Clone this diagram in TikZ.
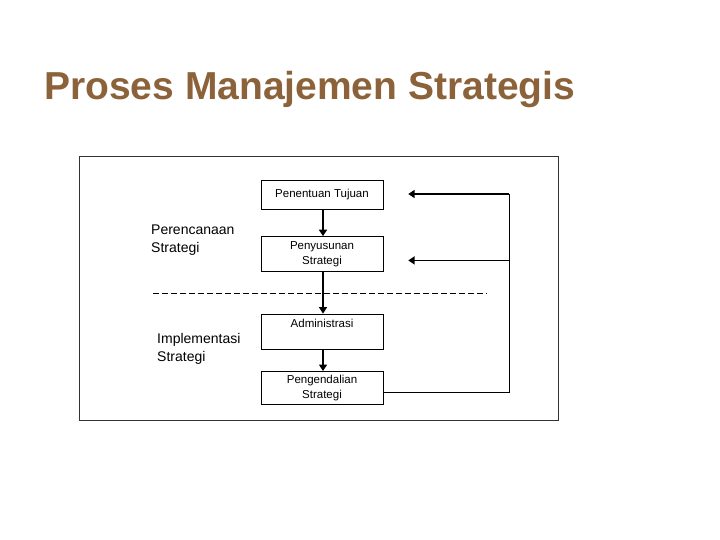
\documentclass[tikz,border=0pt]{standalone}
\usepackage{fontspec}
\setmainfont{Liberation Sans}
\usepackage{xcolor}
\usepackage{tikz}
\usetikzlibrary{positioning, arrows.meta}
\definecolor{judulcoklat}{RGB}{139,98,57}

\begin{document}
\begin{tikzpicture}[x=1pt, y=-1pt, node distance=27pt,
    kotak/.style={draw, rectangle, minimum width=122pt, inner sep=0pt, align=center, font=\fontsize{11.5}{15}\selectfont},
    label/.style={anchor=north west, inner sep=0pt, align=left, font=\fontsize{14}{18}\selectfont},
    panah/.style={-{Triangle[length=6.5pt, width=8pt]}, line width=1.8pt}]
  \useasboundingbox (0,0) rectangle (720,540);
  \node[anchor=base west, inner sep=0pt, text=judulcoklat, font=\bfseries\fontsize{39}{41}\selectfont] (judul) at (44,100) {Proses Manajemen Strategis};
  \node[draw=black!80, minimum width=479pt, minimum height=264pt, inner sep=0pt] (bingkai) at (318.5,288) {};

  \node[kotak, minimum height=29pt] (tujuan) at (322,194.5) {Penentuan Tujuan};
  \node[kotak, minimum height=35pt, below=27pt of tujuan] (penyusunan) {Penyusunan\\Strategi};
  \node[kotak, minimum height=35pt, below=42pt of penyusunan] (administrasi) {Administrasi\\\mbox{}};
  \node[kotak, minimum height=33pt, below=22pt of administrasi] (pengendalian) {Pengendalian\\Strategi};

  \node[label] (perencanaan) at (151,225) {Perencanaan\\Strategi};
  \node[label] (implementasi) at (157,333) {Implementasi\\Strategi};

  \coordinate (gariskiri) at (153,293);
  \coordinate (gariskanan) at (487,293);
  \draw[dash pattern=on 6pt off 3pt] (gariskiri) -- (gariskanan);

  \draw[panah] ([xshift=1pt]tujuan.south) -- ([xshift=1pt]penyusunan.north);
  \draw[panah] ([xshift=1pt]penyusunan.south) -- ([xshift=1pt]administrasi.north);
  \draw[panah] ([xshift=1pt]administrasi.south) -- ([xshift=1pt]pengendalian.north);

  % umpan balik
  \coordinate (sudut) at (509,194);
  \coordinate (ujungatas) at ([xshift=25pt, yshift=0.5pt]tujuan.east);
  \coordinate (ujungtengah) at ([xshift=25pt, yshift=-6.5pt]penyusunan.east);
  \draw[line width=1pt] ([yshift=-5pt]pengendalian.east) -| (sudut);
  \draw[panah] (sudut) -- (ujungatas);
  \draw[panah] (sudut |- ujungtengah) -- (ujungtengah);
\end{tikzpicture}
\end{document}
